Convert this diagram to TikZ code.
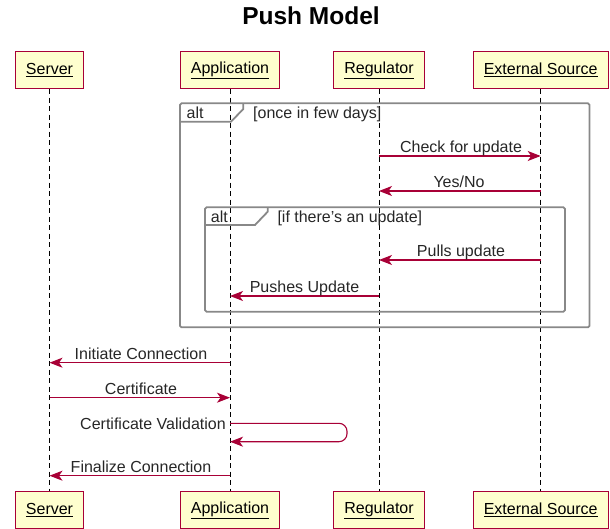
\documentclass[tikz,border=0pt]{standalone}
\usepackage{fontspec}
\setmainfont{Liberation Sans}
\usetikzlibrary{arrows.meta}

\definecolor{umlred}{HTML}{A80036}
\definecolor{umlbox}{HTML}{FEFECE}
\definecolor{umlframe}{HTML}{888888}

\tikzset{
  actor/.style={draw=umlred, fill=umlbox, line width=1.2pt, minimum height=37pt,
    inner xsep=10.5pt, font=\fontsize{16}{19}\selectfont},
  lifeline/.style={black, line width=0.8pt, dash pattern=on 5pt off 3.5pt},
  msg/.style={umlred, line width=1.1pt, -{Stealth[length=13pt,width=10pt,inset=3.5pt]}},
  msglbl/.style={anchor=base, inner sep=0pt, text=black!85, font=\fontsize{16}{19}\selectfont},
  altframe/.style={umlframe, line width=1.8pt, rounded corners=1.5pt},
}

\begin{document}
\begin{tikzpicture}[x=1pt,y=1pt,yscale=-1,xscale=1]
\useasboundingbox (0,0) rectangle (610,529);

\node[font=\bfseries\fontsize{24.5}{28}\selectfont] (title) at (311,16) {Push Model};

% participants, top and bottom
\node[actor] (srvT) at (49.5,70) {\underline{Server}};
\node[actor] (appT) at (230,70) {\underline{Application}};
\node[actor] (regT) at (379,70) {\underline{Regulator}};
\node[actor] (extT) at (540.7,70) {\underline{External Source}};

\node[actor] (srvB) at (49.5,510) {\underline{Server}};
\node[actor] (appB) at (230,510) {\underline{Application}};
\node[actor] (regB) at (379,510) {\underline{Regulator}};
\node[actor] (extB) at (540.7,510) {\underline{External Source}};

\draw[lifeline] (srvT) -- (srvB);
\draw[lifeline] (appT) -- (appB);
\draw[lifeline] (regT) -- (regB);
\draw[lifeline] (extT) -- (extB);

% outer alt
\draw[altframe] (180,103.3) rectangle (589.5,327.3);
\draw[umlframe, line width=1.8pt] (180,121.7) -- (231,121.7) -- (243.3,109) -- (243.3,103.3);
\node[msglbl, anchor=base west] (alt1) at (186.5,119) {alt};
\node[msglbl, anchor=base west] (cnd1) at (253,119) {[once in few days]};

% inner alt
\draw[altframe] (205,207.3) rectangle (565,311.7);
\draw[umlframe, line width=1.8pt] (205,225) -- (255,225) -- (267.7,211.7) -- (267.7,207.3);
\node[msglbl, anchor=base west] (alt2) at (210.7,222.3) {alt};
\node[msglbl, anchor=base west] (cnd2) at (277.3,222.3) {[if there's an update]};

% message end points
\coordinate (r1) at (379,156);   \coordinate (e1) at (540.7,156);
\coordinate (r2) at (379,191);   \coordinate (e2) at (540.7,191);
\coordinate (r3) at (379,260);   \coordinate (e3) at (540.7,260);
\coordinate (a4) at (230,296);   \coordinate (r4) at (379,296);
\coordinate (s5) at (49.5,362.7); \coordinate (a5) at (230,362.7);
\coordinate (s6) at (49.5,397.7); \coordinate (a6) at (230,397.7);
\coordinate (v1) at (230,423.3); \coordinate (v2) at (230,441.7);
\coordinate (s8) at (49.5,475.7); \coordinate (a8) at (230,475.7);

\draw[msg] (r1) -- (e1);
\node[msglbl] (m1) at (461,152.6) {Check for update};
\draw[msg] (e2) -- (r2);
\node[msglbl] (m2) at (459,187.6) {Yes/No};
\draw[msg] (e3) -- (r3);
\node[msglbl] (m3) at (461,256.6) {Pulls update};
\draw[msg] (r4) -- (a4);
\node[msglbl] (m4) at (304.5,292.6) {Pushes Update};

\draw[msg] (a5) -- (s5);
\node[msglbl] (m5) at (141,359.3) {Initiate Connection};
\draw[msg] (s6) -- (a6);
\node[msglbl] (m6) at (141,394.3) {Certificate};
\draw[msg, rounded corners=8pt] (v1) -- ++(117,0) -- ++(0,18.4) -- (v2);
\node[msglbl, anchor=base east] (m7) at (226,429) {Certificate Validation};
\draw[msg] (a8) -- (s8);
\node[msglbl] (m8) at (141,472.3) {Finalize Connection};

\end{tikzpicture}
\end{document}
